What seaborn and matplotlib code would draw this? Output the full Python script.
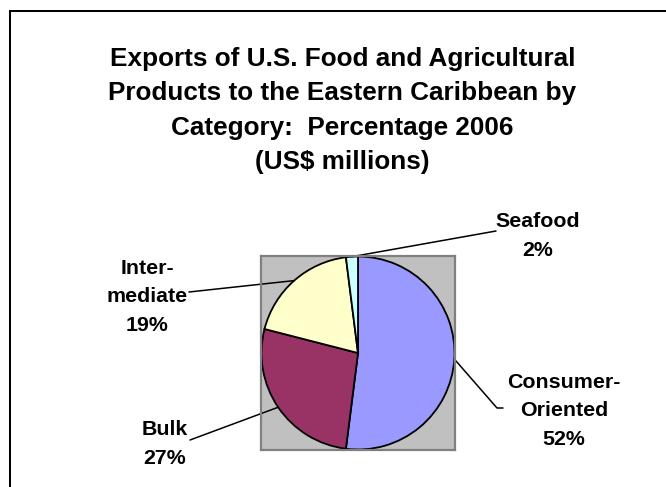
import matplotlib
matplotlib.use("Agg")
import matplotlib.pyplot as plt
from matplotlib.patches import Rectangle
from matplotlib.lines import Line2D
import numpy as np
import seaborn as sns

# Export shares by product category, 2006 (percent)
categories = ["Consumer-\nOriented", "Bulk", "Inter-\nmediate", "Seafood"]
shares = [52, 27, 19, 2]
slice_colors = ["#9999FF", "#993366", "#FFFFCC", "#CCFFFF"]
title_lines = [
    "Exports of U.S. Food and Agricultural",
    "Products to the Eastern Caribbean by",
    "Category:  Percentage 2006",
    "(US$ millions)",
]

sns.set_theme(style="white")
plt.rcParams["font.family"] = ["Liberation Sans", "DejaVu Sans"]

W, H = 666, 487
fig = plt.figure(figsize=(W / 100, H / 100), dpi=100)
fig.patch.set_facecolor("white")


def fx(px):
    return px / W


def fy(py):
    return 1 - py / H


# outer chart frame (open towards right/bottom edge of the canvas)
fig.patches.append(
    Rectangle((fx(10), fy(H + 20)), 1.2, fy(11) - fy(H + 20),
              transform=fig.transFigure, fill=False,
              edgecolor="black", linewidth=1.45)
)

# title, one centred line at a time
title_step = 34.3
for i, line in enumerate(title_lines):
    fig.text(fx(342.5), fy(66 + i * title_step), line, ha="center",
             va="baseline", fontsize=18.8, fontweight="bold", color="black")

# plot area with the pie
PX0, PY0, PSIZE = 261, 256, 194
ax = fig.add_axes([fx(PX0), fy(PY0 + PSIZE), PSIZE / W, PSIZE / H])
wedges, _ = ax.pie(shares, colors=slice_colors, startangle=90,
                   counterclock=False, radius=0.995, frame=True,
                   wedgeprops=dict(edgecolor="black", linewidth=1.3))
ax.set_xlim(-1, 1)
ax.set_ylim(-1, 1)
ax.set_facecolor("#C0C0C0")
ax.set_xticks([])
ax.set_yticks([])
for s in ax.spines.values():
    s.set_visible(True)
    s.set_edgecolor("#808080")
    s.set_linewidth(1.6)

cx, cy, scale = PX0 + PSIZE / 2, PY0 + PSIZE / 2, PSIZE / 2


def to_data(px, py):
    return (px - cx) / scale, (cy - py) / scale


# label placement (pixel positions) and leader-line end points
label_pos = [(564, 388), (165, 435), (147, 274), (538, 227)]
leader_ends = [[(497, 408), (503, 408)], [(190, 440)], [(189, 292)], [(496, 231)]]
label_step = 28.5

for w, cat, share, (lx, ly), ends in zip(wedges, categories, shares,
                                          label_pos, leader_ends):
    mid = np.deg2rad((w.theta1 + w.theta2) / 2)
    r = w.r
    xs = [r * np.cos(mid)]
    ys = [r * np.sin(mid)]
    for ex, ey in ends:
        dx, dy = to_data(ex, ey)
        xs.append(dx)
        ys.append(dy)
    ax.add_line(Line2D(xs, ys, color="black", linewidth=1.1, clip_on=False))

    lines = cat.split("\n") + [f"{share}%"]
    for j, t in enumerate(lines):
        fig.text(fx(lx), fy(ly + j * label_step), t, ha="center",
                 va="baseline", fontsize=15.4, fontweight="bold",
                 color="black")

fig.savefig("out.png", dpi=100, facecolor="white")
